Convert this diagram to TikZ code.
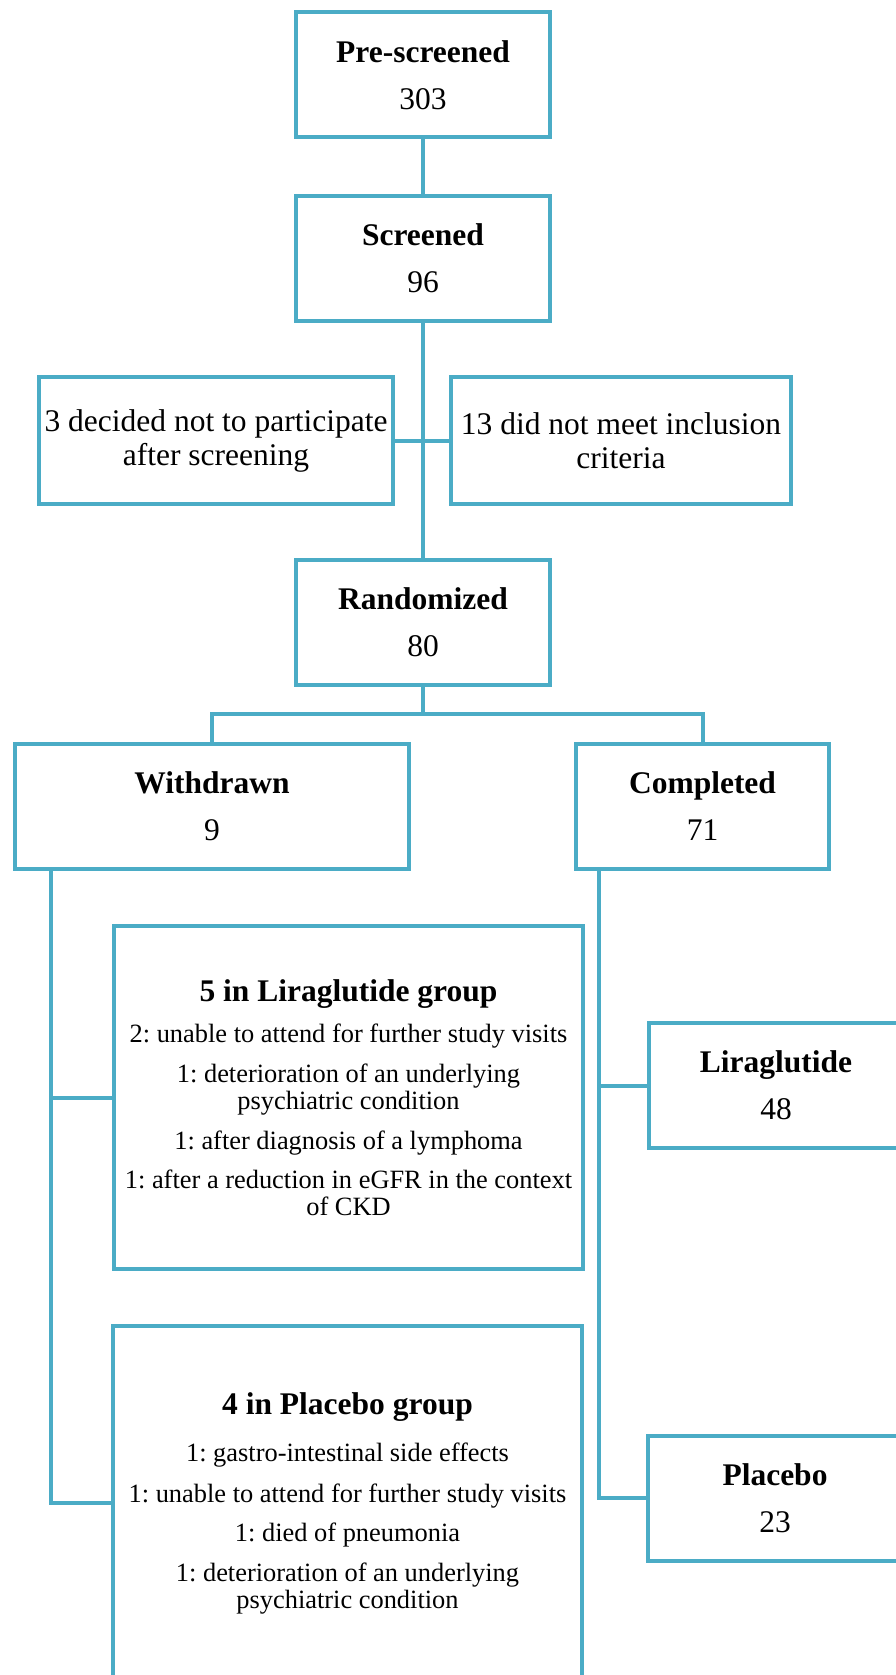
\documentclass[tikz,border=0pt]{standalone}
\usepackage{fontspec}
\setmainfont{Liberation Serif}
\frenchspacing
\definecolor{flowblue}{HTML}{4BACC6}
\begin{document}
\begin{tikzpicture}[x=1pt,y=-1pt,line width=4pt,
  stagebox/.style={draw=flowblue,fill=white,inner sep=0pt,align=center,minimum width=254pt,minimum height=125pt,font=\fontsize{31.5}{47}\selectfont},
  sidebox/.style={stagebox,minimum height=127pt,font=\fontsize{31.5}{34}\selectfont},
  groupbox/.style={stagebox,minimum width=469pt,font=\fontsize{26.4}{27}\selectfont},
  link/.style={draw=flowblue}]
  \useasboundingbox (0,0) rectangle (896,1675);
  \clip (0,0) rectangle (896,1675);
  \node[stagebox] (pre) at (423,75) {\textbf{Pre-screened}\\303};
  \node[stagebox] (scr) at (423,258) {\textbf{Screened}\\96};
  \node[sidebox,minimum width=354pt] (decl) at (216,440.5) {3 decided not to participate\\after screening};
  \node[sidebox,minimum width=340pt] (excl) at (621,440.5) {13 did not meet inclusion\\criteria};
  \node[stagebox] (rand) at (423,622) {\textbf{Randomized}\\80};
  \node[stagebox,minimum width=394pt] (wd) at (212,806) {\textbf{Withdrawn}\\9};
  \node[stagebox,minimum width=253pt] (cp) at (702.5,806) {\textbf{Completed}\\71};
  \node[groupbox,minimum height=343pt] (lgrp) at (348.5,1097.5) {{\fontsize{31.5}{27}\selectfont\bfseries 5 in Liraglutide group}\\[14pt]
    2: unable to attend for further study visits\\[13pt]
    1: deterioration of an underlying\\psychiatric condition\\[13pt]
    1: after diagnosis of a lymphoma\\[12pt]
    1: after a reduction in eGFR in the context\\of CKD};
  \node[stagebox] (lira) at (776,1085.5) {\textbf{Liraglutide}\\48};
  \node[groupbox,minimum height=354pt] (pgrp) at (347.5,1503) {{\fontsize{31.5}{27}\selectfont\bfseries 4 in Placebo group}\\[20pt]
    1: gastro-intestinal side effects\\[14pt]
    1: unable to attend for further study visits\\[12pt]
    1: died of pneumonia\\[13pt]
    1: deterioration of an underlying\\psychiatric condition};
  \node[stagebox] (plac) at (775,1498) {\textbf{Placebo}\\23};
  \draw[link] (pre) -- (scr);
  \draw[link] (scr) -- (rand);
  \draw[link] (decl) -- (excl);
  \coordinate (split) at (423,714);
  \draw[link] (rand) -- (split);
  \draw[link] (wd.north) |- (split) -| (cp.north);
  \coordinate (wdfoot) at ([xshift=38pt]wd.south west);
  \draw[link] (wdfoot) |- (lgrp.west);
  \draw[link] (wdfoot) |- (pgrp.west);
  \coordinate (cpfoot) at ([xshift=25pt]cp.south west);
  \draw[link] (cpfoot) |- (lira.west);
  \draw[link] (cpfoot) |- (plac.west);
\end{tikzpicture}
\end{document}
